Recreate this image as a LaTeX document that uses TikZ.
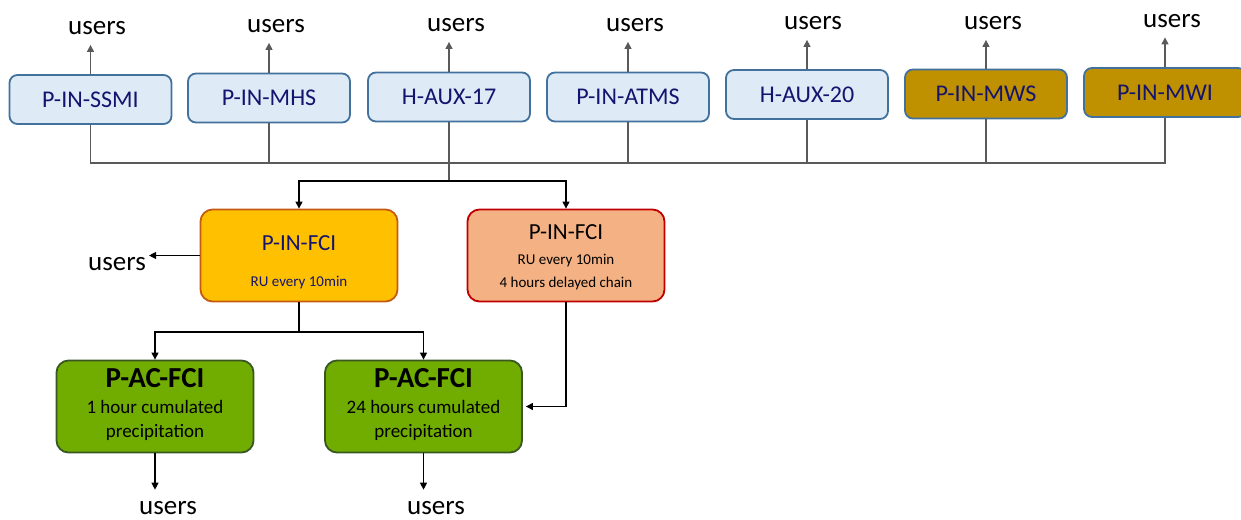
\documentclass[tikz,border=0pt]{standalone}
\usepackage{fontspec}
\setmainfont{Carlito}
\usetikzlibrary{arrows.meta}
\definecolor{navy}{RGB}{20,20,110}
\definecolor{lbfill}{RGB}{222,235,247}
\definecolor{lbdraw}{RGB}{65,113,156}
\definecolor{goldfill}{RGB}{191,144,0}
\definecolor{yelfill}{RGB}{255,192,0}
\definecolor{yeldraw}{RGB}{197,90,17}
\definecolor{redfill}{RGB}{244,177,131}
\definecolor{reddraw}{RGB}{192,0,0}
\definecolor{grnfill}{RGB}{112,173,0}
\definecolor{grndraw}{RGB}{56,87,35}
\definecolor{linegrey}{RGB}{90,90,90}
\tikzset{
  topbox/.style={draw=lbdraw, fill=lbfill, line width=1.8pt, rounded corners=8pt,
     minimum width=162pt, minimum height=49pt, inner sep=0pt, text=navy,
     font=\fontsize{24}{28}\selectfont},
  goldbox/.style={topbox, fill=goldfill},
  bigbox/.style={rounded corners=12pt, line width=1.8pt, minimum width=197pt,
     minimum height=92pt, inner sep=0pt},
  usr/.style={inner sep=0pt, anchor=base, font=\fontsize{27}{32}\selectfont},
  bus/.style={draw=linegrey, line width=1.3pt},
  arr/.style={line width=1.1pt, -{Triangle[length=7pt,width=7pt]}},
  garr/.style={arr, draw=linegrey, line width=1.3pt},
  ttl/.style={inner sep=0pt, font=\fontsize{23}{27}\selectfont},
  sub/.style={inner sep=0pt, font=\fontsize{15}{18}\selectfont},
  gttl/.style={inner sep=0pt, font=\fontsize{29}{34}\selectfont\bfseries},
  gsub/.style={inner sep=0pt, font=\fontsize{19}{23}\selectfont},
}
\begin{document}
\begin{tikzpicture}[x=1pt,y=-1pt]
\useasboundingbox (0,0) rectangle (1241,519);
% top boxes
\node[topbox] (ssmi) at (90.5,99.5) {P-IN-SSMI};
\node[topbox] (mhs) at (269,98) {P-IN-MHS};
\node[topbox] (h17) at (449,97) {H-AUX-17};
\node[topbox] (atms) at (628,97) {P-IN-ATMS};
\node[topbox] (h20) at (807,94.5) {H-AUX-20};
\node[goldbox] (mws) at (986,94) {P-IN-MWS};
\node[goldbox] (mwi) at (1165,92.5) {P-IN-MWI};
% users above
\node[usr] (u1) at (97,35) {users};
\node[usr] (u2) at (276,33) {users};
\node[usr] (u3) at (456,32) {users};
\node[usr] (u4) at (635,32) {users};
\node[usr] (u5) at (813,30) {users};
\node[usr] (u6) at (993,30) {users};
\node[usr] (u7) at (1172,27.5) {users};
\foreach \b/\u in {ssmi/u1,mhs/u2,h17/u3,atms/u4,h20/u5,mws/u6,mwi/u7}
  \draw[garr, shorten >=9.5pt] (\b.north) -- (\b.north |- \u.south);
% bus
\coordinate (busL) at (90.5,163);
\coordinate (busR) at (1165,163);
\draw[bus] (ssmi.south) -- (busL) -- (busR) -- (mwi.south);
\foreach \b in {mhs,atms,h20,mws}
  \draw[bus] (\b.south) -- (\b.south |- busL);
\coordinate (split) at (449,181);
\draw[bus] (h17.south) -- (split);
% middle boxes
\node[bigbox, draw=yeldraw, fill=yelfill] (yel) at (299,255.5) {};
\node[ttl, text=navy] (yelt) at (299,243) {P-IN-FCI};
\node[sub, text=navy] (yels) at (299,283) {RU every 10min};
\node[bigbox, draw=reddraw, fill=redfill] (red) at (566,255.5) {};
\node[ttl] (redt) at (566,232) {P-IN-FCI};
\node[sub] (reds1) at (566,261) {RU every 10min};
\node[sub] (reds2) at (566,283) {4 hours delayed chain};
\draw[arr] (split) -| (yel.north);
\draw[arr] (split) -| (red.north);
\node[usr] (uy) at (117,270) {users};
\draw[arr, shorten >=3pt] (yel.west) -- (uy.east |- yel.west);
% green boxes
\node[bigbox, draw=grndraw, fill=grnfill] (g1) at (155,406.5) {};
\node[gttl] (g1t) at (155,378) {P-AC-FCI};
\node[gsub] (g1a) at (155,407) {1 hour cumulated};
\node[gsub] (g1b) at (155,432) {precipitation};
\node[bigbox, draw=grndraw, fill=grnfill] (g2) at (423.5,406.5) {};
\node[gttl] (g2t) at (423.5,378) {P-AC-FCI};
\node[gsub] (g2a) at (423.5,407) {24 hours cumulated};
\node[gsub] (g2b) at (423.5,432) {precipitation};
\coordinate (split2) at (299,332);
\draw[line width=1.1pt] (yel.south) -- (split2);
\draw[arr] (split2) -| (g1.north);
\draw[arr] (split2) -| (g2.north);
\draw[arr, shorten >=3pt] (red.south) |- (g2.east);
% users below
\node[usr] (ub1) at (168,514) {users};
\node[usr] (ub2) at (436,514) {users};
\draw[arr, shorten >=11pt] (g1.south) -- (g1.south |- ub1.north);
\draw[arr, shorten >=11pt] (g2.south) -- (g2.south |- ub2.north);
\end{tikzpicture}
\end{document}
